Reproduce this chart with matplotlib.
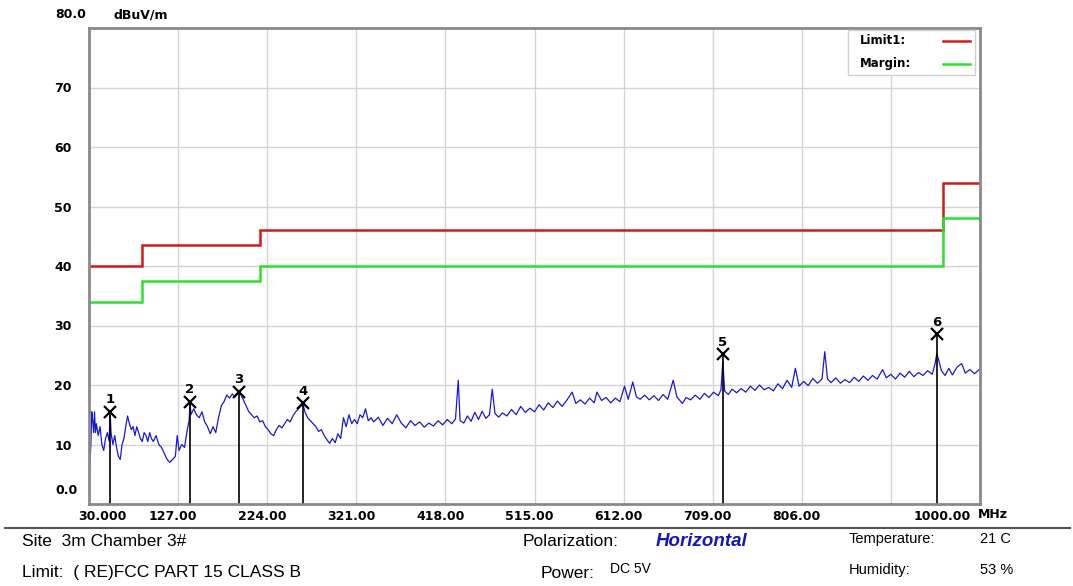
import numpy as np
import matplotlib
matplotlib.use('Agg')
from matplotlib import pyplot as plt
from matplotlib import transforms
from matplotlib.patches import Rectangle

# scan trace (MHz, dBuV/m)
freq = [30, 31, 32, 33, 34, 35, 36, 37, 38, 40, 42, 44, 46, 48, 50, 52, 53, 54, 56, 58,
        60, 62, 64, 66, 68, 70, 72, 74, 76, 78, 80, 82, 84, 86, 88, 90, 92, 94, 96, 98,
        100, 103, 106, 109, 112, 115, 118, 121, 124, 126, 128, 131, 134, 137, 139, 140, 141, 144, 147, 150,
        153, 156, 159, 162, 165, 168, 171, 174, 177, 180, 183, 186, 189, 193, 195, 198, 201, 204, 207, 210,
        213, 216, 219, 222, 225, 228, 231, 234, 237, 240, 243, 246, 249, 252, 255, 258, 261, 263, 265, 268,
        271, 274, 277, 280, 283, 286, 289, 292, 295, 298, 301, 304, 307, 310, 313, 316, 319, 322, 325, 328,
        331, 334, 337, 340, 345, 350, 355, 360, 365, 370, 375, 380, 385, 390, 395, 400, 405, 410, 415, 420,
        425, 429, 432, 434, 438, 442, 446, 450, 454, 458, 462, 466, 469, 472, 476, 480, 485, 490, 495, 500,
        505, 510, 515, 520, 525, 530, 535, 540, 545, 550, 556, 560, 565, 570, 575, 580, 583, 588, 593, 598,
        603, 608, 613, 617, 622, 626, 630, 635, 640, 645, 650, 655, 660, 666, 670, 676, 680, 685, 690, 695,
        700, 705, 710, 715, 718, 720, 722, 726, 730, 735, 740, 745, 750, 755, 760, 765, 770, 775, 780, 785,
        790, 795, 799, 803, 808, 813, 818, 823, 828, 831, 834, 838, 843, 848, 853, 858, 863, 868, 873, 878,
        883, 888, 894, 898, 903, 908, 913, 918, 923, 928, 933, 938, 943, 948, 951, 953, 955, 958, 962, 966,
        970, 975, 980, 984, 989, 994, 1000]
level = [8.0, 6.5, 10.0, 15.5, 14.0, 12.0, 15.5, 12.0, 13.5, 11.5, 13.0, 10.0, 9.0, 11.0, 12.0, 10.5, 15.5, 12.0, 10.0, 11.5,
         9.5, 8.0, 7.5, 10.0, 11.0, 13.0, 14.8, 13.5, 12.5, 13.0, 11.5, 13.0, 12.0, 11.0, 10.5, 12.0, 11.5, 10.5, 12.0, 11.0,
         10.5, 11.5, 10.0, 9.5, 8.5, 7.5, 7.0, 7.5, 8.0, 11.5, 9.0, 10.0, 9.5, 12.5, 14.0, 17.0, 15.0, 16.0, 15.0, 14.5,
         15.5, 13.8, 13.0, 11.8, 13.0, 12.0, 14.5, 16.5, 17.2, 18.3, 17.8, 18.5, 18.0, 18.9, 18.5, 17.5, 16.5, 15.5, 15.0, 14.5,
         14.8, 13.8, 14.0, 13.0, 12.5, 11.8, 11.5, 12.5, 13.2, 12.8, 13.5, 14.2, 13.8, 14.8, 15.5, 16.0, 16.5, 16.8, 15.5, 14.5,
         14.0, 13.5, 13.0, 12.2, 12.5, 11.5, 10.8, 10.2, 11.0, 10.3, 11.8, 11.0, 14.5, 13.0, 15.0, 13.5, 14.2, 13.5, 15.0, 14.5,
         16.0, 14.0, 14.5, 13.8, 14.6, 13.2, 14.4, 13.5, 15.0, 13.6, 12.8, 14.0, 13.2, 13.8, 12.9, 13.6, 13.1, 14.0, 13.3, 14.2,
         13.5, 14.3, 20.8, 14.0, 13.6, 14.8, 13.9, 15.4, 14.2, 15.6, 14.4, 15.0, 19.3, 15.2, 14.6, 15.3, 14.8, 15.9, 15.0, 16.4,
         15.4, 16.1, 15.5, 16.7, 15.8, 17.0, 16.2, 17.3, 16.4, 17.4, 18.8, 16.9, 17.5, 16.8, 17.8, 17.0, 18.8, 17.4, 17.9, 17.0,
         17.8, 17.2, 19.8, 17.6, 20.5, 18.0, 17.6, 18.3, 17.5, 18.2, 17.4, 18.4, 17.6, 20.8, 18.0, 16.9, 17.9, 17.5, 18.3, 17.6,
         18.6, 17.9, 18.8, 18.2, 19.2, 24.0, 19.0, 18.4, 19.3, 18.7, 19.4, 18.8, 19.8, 19.1, 20.0, 19.2, 19.6, 19.0, 20.2, 19.4,
         20.8, 19.6, 22.8, 19.8, 20.6, 19.9, 21.1, 20.3, 21.0, 25.6, 21.0, 20.4, 21.2, 20.3, 20.9, 20.4, 21.3, 20.6, 21.5, 20.8,
         21.6, 21.0, 22.6, 21.2, 21.8, 21.0, 22.0, 21.3, 22.3, 21.4, 22.1, 21.6, 22.4, 21.8, 23.5, 25.3, 24.2, 22.4, 21.6, 22.8,
         21.7, 23.0, 23.6, 22.0, 22.6, 21.9, 22.7]

# limit line (FCC part 15 class B, 3 m) and margin
limit_edges = [30, 88, 216, 960, 1000]
limit_vals = [40, 43.5, 46, 54]
margin_vals = [34, 37.5, 40, 48]

# marked peaks
mark_no = ['1', '2', '3', '4', '5', '6']
mark_f = [52.9, 140.0, 193.3, 263.0, 720.2, 953.0]
mark_v = [15.5, 17.2, 18.9, 16.9, 25.2, 28.5]

xticks = [30, 127, 224, 321, 418, 515, 612, 709, 806, 903, 1000]
xlabels = ['30.000', '127.00', '224.00', '321.00', '418.00', '515.00', '612.00',
           '709.00', '806.00', '', '1000.00']
yticks = [10, 20, 30, 40, 50, 60, 70]

RED = '#d21a1a'
GREEN = '#2ee02e'

W, H = 1073, 586
fig = plt.figure(figsize=(W / 100, H / 100), dpi=100)
ax = fig.add_axes([89 / W, 1 - 504 / H, 891 / W, 476 / H])


def fx(px):
    return px / W


def fy(py):
    return 1 - py / H


ax.set_xlim(30, 1000)
ax.set_ylim(0, 80)
ax.grid(True, color='#d4d4d4', lw=1.0)
ax.set_axisbelow(True)
for s in ax.spines.values():
    s.set_color('#8a8a8a')
    s.set_linewidth(2)

ax.stairs(limit_vals, limit_edges, color=RED, lw=1.8, baseline=None)
ax.stairs(margin_vals, limit_edges, color=GREEN, lw=1.8, baseline=None)
ax.plot(freq, level, color='#1a1acc', lw=0.9)

ax.vlines(mark_f, 0, mark_v, color='black', lw=1.2)
ax.plot(mark_f, mark_v, 'x', color='black', ms=8, mew=1.6)
for n, f, v in zip(mark_no, mark_f, mark_v):
    ax.annotate(n, (f, v), xytext=(0, 4), textcoords='offset points',
                ha='center', va='bottom', fontsize=9.5, fontweight='bold')

ax.set_xticks(xticks, xlabels)
ax.set_yticks(yticks, [str(t) for t in yticks])
ax.tick_params(length=0)
ax.tick_params(axis='x', pad=4, labelsize=9)
ax.tick_params(axis='y', pad=25)
for lab in ax.get_yticklabels():
    lab.set_fontsize(9)
    lab.set_fontweight('bold')
    lab.set_horizontalalignment('left')
for i, lab in enumerate(ax.get_xticklabels()):
    lab.set_fontweight('bold')
    dx = -5
    if i == 0:
        dx = 13
    elif i == len(xticks) - 1:
        dx = -38
    lab.set_transform(lab.get_transform() + transforms.ScaledTranslation(dx / 100, 0, fig.dpi_scale_trans))

# legend box, drawn by hand so the labels sit left-aligned
fig.add_artist(Rectangle((fx(848), fy(75)), fx(975) - fx(848), fy(30) - fy(75),
                         facecolor='white', edgecolor='#d0d0d0', lw=1.0, zorder=5))
for lbl, col, py in [('Limit1:', RED, 41), ('Margin:', GREEN, 64)]:
    fig.text(fx(860), fy(py), lbl, fontsize=8.5, fontweight='bold', va='center', zorder=6)
    fig.add_artist(plt.Line2D([fx(943), fx(970)], [fy(py), fy(py)], color=col, lw=1.8, zorder=6))

fig.text(fx(55), fy(15), '80.0', fontsize=9, fontweight='bold', va='center')
fig.text(fx(113), fy(15), 'dBuV/m', fontsize=9, fontweight='bold', va='center')
fig.text(fx(55), fy(491), '0.0', fontsize=9, fontweight='bold', va='center')
fig.text(fx(978), fy(515), 'MHz', fontsize=9, fontweight='bold', va='center')

fig.add_artist(plt.Line2D([fx(5), fx(1070)], [fy(528), fy(528)], color='#555555', lw=1.5))

ff = 'Liberation Sans'
fig.text(fx(22), fy(542), 'Site  3m Chamber 3#', family=ff, fontsize=12.5, va='center')
fig.text(fx(22), fy(572), 'Limit:  ( RE)FCC PART 15 CLASS B', family=ff, fontsize=12.5, va='center')
fig.text(fx(523), fy(542), 'Polarization:', family=ff, fontsize=12.5, va='center')
fig.text(fx(656), fy(541), 'Horizontal', family=ff, fontsize=13.5, va='center',
         color='#1616b8', fontweight='bold', style='italic')
fig.text(fx(541), fy(573), 'Power:', family=ff, fontsize=12.5, va='center')
fig.text(fx(610), fy(569), 'DC 5V', family=ff, fontsize=10, va='center')
fig.text(fx(849), fy(539), 'Temperature:', family=ff, fontsize=10.5, va='center')
fig.text(fx(980), fy(539), '21 C', family=ff, fontsize=10.5, va='center')
fig.text(fx(849), fy(570), 'Humidity:', family=ff, fontsize=10.5, va='center')
fig.text(fx(980), fy(570), '53 %', family=ff, fontsize=10.5, va='center')

fig.savefig('out.png', dpi=100)
